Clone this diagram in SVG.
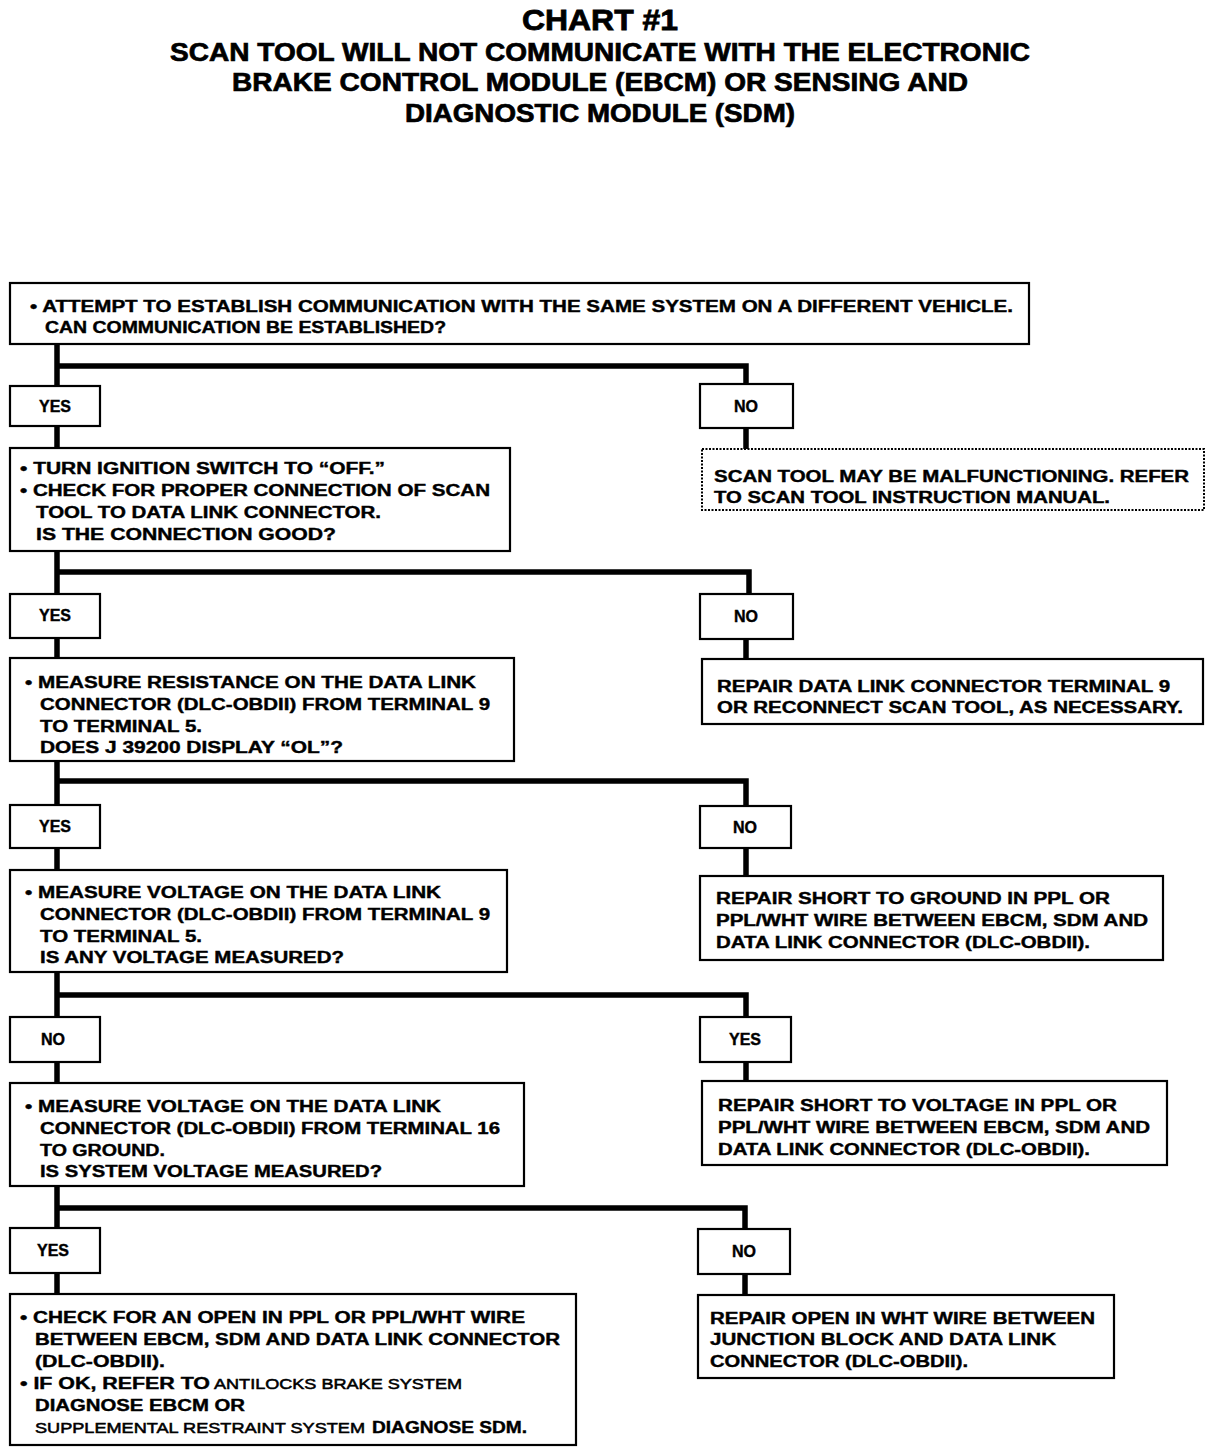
<svg xmlns="http://www.w3.org/2000/svg" width="1216" height="1454" viewBox="0 0 1216 1454">
<style>
text{font-family:"Liberation Sans",Arial,Helvetica,sans-serif;font-weight:bold;fill:#000;}
.t{font-size:16px;stroke:#000;stroke-width:0.4px;}
.h1{font-size:30px;stroke:#000;stroke-width:0.8px;}
.h2{font-size:26px;stroke:#000;stroke-width:0.7px;}
.lt{font-weight:normal;font-size:15.5px;stroke:#000;stroke-width:0.55px;}
.box{fill:#fff;stroke:#000;stroke-width:2.2;}
.dot{fill:#fff;stroke:#000;stroke-width:2;stroke-dasharray:2 1.5;}
.lbl{font-size:16px;text-anchor:middle;stroke:#000;stroke-width:0.4px;}
.con{fill:none;stroke:#000;stroke-width:5.5;stroke-linejoin:miter;stroke-linecap:butt;}
</style>
<rect width="1216" height="1454" fill="#fff"/>
<g id="title">
<text class="h1" x="522" y="30" textLength="156" lengthAdjust="spacingAndGlyphs">CHART #1</text>
<text class="h2" x="170" y="61" textLength="860" lengthAdjust="spacingAndGlyphs">SCAN TOOL WILL NOT COMMUNICATE WITH THE ELECTRONIC</text>
<text class="h2" x="232" y="91" textLength="736" lengthAdjust="spacingAndGlyphs">BRAKE CONTROL MODULE (EBCM) OR SENSING AND</text>
<text class="h2" x="405" y="122" textLength="390" lengthAdjust="spacingAndGlyphs">DIAGNOSTIC MODULE (SDM)</text>
</g>
<g id="connectors">
<path class="con" d="M57,344 V386 M57,366 H746 V384"/>
<path class="con" d="M57,426 V448 M746,428 V449"/>
<path class="con" d="M57,551 V594 M57,572 H749 V594"/>
<path class="con" d="M57,638 V658 M746,639 V659"/>
<path class="con" d="M57,761 V805 M57,781 H746 V806"/>
<path class="con" d="M57,848 V870 M746,848 V876"/>
<path class="con" d="M57,972 V1017 M57,995 H746 V1017"/>
<path class="con" d="M57,1062 V1083 M746,1062 V1081"/>
<path class="con" d="M57,1186 V1228 M57,1208 H745 V1229"/>
<path class="con" d="M57,1273 V1294 M745,1274 V1295"/>
</g>
<g id="n1">
<rect class="box" x="10" y="283" width="1019" height="61"/>
<text class="t" x="30" y="312" textLength="983" lengthAdjust="spacingAndGlyphs">• ATTEMPT TO ESTABLISH COMMUNICATION WITH THE SAME SYSTEM ON A DIFFERENT VEHICLE.</text>
<text class="t" x="45" y="333" textLength="401" lengthAdjust="spacingAndGlyphs">CAN COMMUNICATION BE ESTABLISHED?</text>
</g>
<g id="yes1"><rect class="box" x="10" y="386" width="90" height="40"/><text class="lbl" x="55" y="412">YES</text></g>
<g id="no1"><rect class="box" x="700" y="384" width="93" height="44"/><text class="lbl" x="746" y="412">NO</text></g>
<g id="n2">
<rect class="box" x="10" y="448" width="500" height="103"/>
<text class="t" x="20" y="474" textLength="365" lengthAdjust="spacingAndGlyphs">• TURN IGNITION SWITCH TO “OFF.”</text>
<text class="t" x="20" y="496" textLength="470" lengthAdjust="spacingAndGlyphs">• CHECK FOR PROPER CONNECTION OF SCAN</text>
<text class="t" x="36" y="518" textLength="345" lengthAdjust="spacingAndGlyphs">TOOL TO DATA LINK CONNECTOR.</text>
<text class="t" x="36" y="540" textLength="300" lengthAdjust="spacingAndGlyphs">IS THE CONNECTION GOOD?</text>
</g>
<g id="r1">
<rect class="dot" x="702" y="449" width="502" height="61"/>
<text class="t" x="714" y="482" textLength="475" lengthAdjust="spacingAndGlyphs">SCAN TOOL MAY BE MALFUNCTIONING. REFER</text>
<text class="t" x="714" y="503" textLength="396" lengthAdjust="spacingAndGlyphs">TO SCAN TOOL INSTRUCTION MANUAL.</text>
</g>
<g id="yes2"><rect class="box" x="10" y="594" width="90" height="44"/><text class="lbl" x="55" y="621">YES</text></g>
<g id="no2"><rect class="box" x="700" y="594" width="93" height="45"/><text class="lbl" x="746" y="622">NO</text></g>
<g id="n3">
<rect class="box" x="10" y="658" width="504" height="103"/>
<text class="t" x="25" y="688" textLength="451" lengthAdjust="spacingAndGlyphs">• MEASURE RESISTANCE ON THE DATA LINK</text>
<text class="t" x="40" y="710" textLength="450" lengthAdjust="spacingAndGlyphs">CONNECTOR (DLC-OBDII) FROM TERMINAL 9</text>
<text class="t" x="40" y="732" textLength="162" lengthAdjust="spacingAndGlyphs">TO TERMINAL 5.</text>
<text class="t" x="40" y="753" textLength="303" lengthAdjust="spacingAndGlyphs">DOES J  39200 DISPLAY “OL”?</text>
</g>
<g id="r2">
<rect class="box" x="702" y="659" width="501" height="65"/>
<text class="t" x="717" y="692" textLength="453" lengthAdjust="spacingAndGlyphs">REPAIR DATA LINK CONNECTOR TERMINAL 9</text>
<text class="t" x="717" y="713" textLength="466" lengthAdjust="spacingAndGlyphs">OR RECONNECT SCAN TOOL, AS NECESSARY.</text>
</g>
<g id="yes3"><rect class="box" x="10" y="805" width="90" height="43"/><text class="lbl" x="55" y="832">YES</text></g>
<g id="no3"><rect class="box" x="700" y="806" width="91" height="42"/><text class="lbl" x="745" y="833">NO</text></g>
<g id="n4">
<rect class="box" x="10" y="870" width="497" height="102"/>
<text class="t" x="25" y="898" textLength="416" lengthAdjust="spacingAndGlyphs">• MEASURE VOLTAGE ON THE DATA LINK</text>
<text class="t" x="40" y="920" textLength="450" lengthAdjust="spacingAndGlyphs">CONNECTOR (DLC-OBDII) FROM TERMINAL 9</text>
<text class="t" x="40" y="942" textLength="162" lengthAdjust="spacingAndGlyphs">TO TERMINAL 5.</text>
<text class="t" x="40" y="963" textLength="304" lengthAdjust="spacingAndGlyphs">IS ANY VOLTAGE MEASURED?</text>
</g>
<g id="r3">
<rect class="box" x="700" y="876" width="463" height="84"/>
<text class="t" x="716" y="904" textLength="394" lengthAdjust="spacingAndGlyphs">REPAIR SHORT TO GROUND IN PPL OR</text>
<text class="t" x="716" y="926" textLength="432" lengthAdjust="spacingAndGlyphs">PPL/WHT WIRE BETWEEN EBCM, SDM AND</text>
<text class="t" x="716" y="948" textLength="374" lengthAdjust="spacingAndGlyphs">DATA LINK CONNECTOR (DLC-OBDII).</text>
</g>
<g id="no4"><rect class="box" x="10" y="1017" width="90" height="45"/><text class="lbl" x="53" y="1045">NO</text></g>
<g id="yes4"><rect class="box" x="700" y="1017" width="91" height="45"/><text class="lbl" x="745" y="1045">YES</text></g>
<g id="n5">
<rect class="box" x="10" y="1083" width="514" height="103"/>
<text class="t" x="25" y="1112" textLength="416" lengthAdjust="spacingAndGlyphs">• MEASURE VOLTAGE ON THE DATA LINK</text>
<text class="t" x="40" y="1134" textLength="460" lengthAdjust="spacingAndGlyphs">CONNECTOR (DLC-OBDII) FROM TERMINAL 16</text>
<text class="t" x="40" y="1156" textLength="125" lengthAdjust="spacingAndGlyphs">TO GROUND.</text>
<text class="t" x="40" y="1177" textLength="342" lengthAdjust="spacingAndGlyphs">IS SYSTEM VOLTAGE MEASURED?</text>
</g>
<g id="r4">
<rect class="box" x="702" y="1081" width="465" height="84"/>
<text class="t" x="718" y="1111" textLength="399" lengthAdjust="spacingAndGlyphs">REPAIR SHORT TO VOLTAGE IN PPL OR</text>
<text class="t" x="718" y="1133" textLength="432" lengthAdjust="spacingAndGlyphs">PPL/WHT WIRE BETWEEN EBCM, SDM AND</text>
<text class="t" x="718" y="1155" textLength="372" lengthAdjust="spacingAndGlyphs">DATA LINK CONNECTOR (DLC-OBDII).</text>
</g>
<g id="yes5"><rect class="box" x="10" y="1228" width="90" height="45"/><text class="lbl" x="53" y="1256">YES</text></g>
<g id="no5"><rect class="box" x="698" y="1229" width="92" height="45"/><text class="lbl" x="744" y="1257">NO</text></g>
<g id="n6">
<rect class="box" x="10" y="1294" width="566" height="151"/>
<text class="t" x="20" y="1323" textLength="505" lengthAdjust="spacingAndGlyphs">• CHECK FOR AN OPEN IN PPL OR PPL/WHT WIRE</text>
<text class="t" x="35" y="1345" textLength="525" lengthAdjust="spacingAndGlyphs">BETWEEN EBCM, SDM AND DATA LINK CONNECTOR</text>
<text class="t" x="35" y="1367" textLength="130" lengthAdjust="spacingAndGlyphs">(DLC-OBDII).</text>
<text class="t" x="20" y="1389" textLength="190" lengthAdjust="spacingAndGlyphs">• IF OK, REFER TO</text>
<text class="lt" x="214" y="1389" textLength="248" lengthAdjust="spacingAndGlyphs">ANTILOCKS BRAKE SYSTEM</text>
<text class="t" x="35" y="1411" textLength="210" lengthAdjust="spacingAndGlyphs">DIAGNOSE EBCM OR</text>
<text class="lt" x="35" y="1433" textLength="330" lengthAdjust="spacingAndGlyphs">SUPPLEMENTAL RESTRAINT SYSTEM</text>
<text class="t" x="372" y="1433" textLength="155" lengthAdjust="spacingAndGlyphs">DIAGNOSE SDM.</text>
</g>
<g id="r5">
<rect class="box" x="698" y="1295" width="416" height="83"/>
<text class="t" x="710" y="1324" textLength="385" lengthAdjust="spacingAndGlyphs">REPAIR OPEN IN WHT WIRE BETWEEN</text>
<text class="t" x="710" y="1345" textLength="346" lengthAdjust="spacingAndGlyphs">JUNCTION BLOCK AND DATA LINK</text>
<text class="t" x="710" y="1367" textLength="258" lengthAdjust="spacingAndGlyphs">CONNECTOR (DLC-OBDII).</text>
</g>
</svg>
